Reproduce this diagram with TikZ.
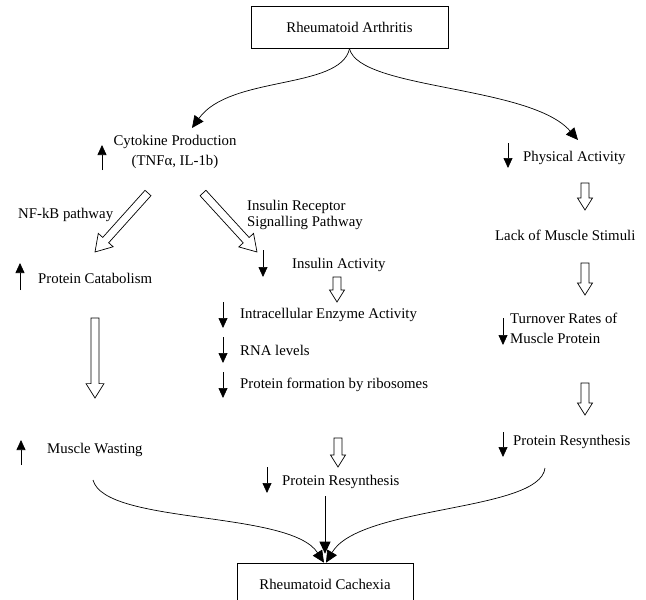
\documentclass[tikz,border=0pt]{standalone}
\usepackage{fontspec}
\setmainfont{Liberation Serif}
\usetikzlibrary{arrows.meta, calc}
\tikzset{box/.style={draw, line width=0.6pt, minimum height=42pt},
label_t/.style={anchor=west, inner sep=0pt, align=left},
ind/.style={-{Triangle[length=10pt, width=9pt]}, line width=0.7pt},
curve/.style={-{Triangle[length=12pt, width=11pt]}, line width=0.7pt},
hollow/.style={draw, line width=0.7pt, fill=white, line join=miter}}
% open block arrow from #2 to #3, head half-width #1
\newcommand{\blockarrow}[3][7.5pt]{%
  \draw[hollow] let \p1=($(#3)-(#2)$), \n1={atan2(\y1,\x1)}, \n2={veclen(\x1,\y1)} in
    [shift={(#2)}, rotate=\n1]
    (0pt,-4pt) -- (\n2-1.6*#1,-4pt) -- (\n2-1.6*#1,-#1) -- (\n2,0pt)
    -- (\n2-1.6*#1,#1) -- (\n2-1.6*#1,4pt) -- (0pt,4pt) -- cycle;}

\begin{document}
\begin{tikzpicture}[x=1pt, y=-1pt, font=\fontsize{14.8}{20}\selectfont]
  \useasboundingbox (0,0) rectangle (646,600);
  % boxes
  \node[box, minimum width=197pt] (ra) at (349.5,27.5) {Rheumatoid Arthritis};
  \node[box, minimum width=176pt] (cachexia) at (325,584) {Rheumatoid Cachexia};
  % left and middle columns
  \node[align=center, inner sep=0pt] (cyto) at (175,152) {Cytokine Production\\(TNFα, IL-1b)};
  \node[label_t] (nfkb) at (18,215) {NF-kB pathway};
  \node[label_t, font=\fontsize{14.8}{16}\selectfont] (irsp) at (247,215) {Insulin Receptor\\Signalling Pathway};
  \node[label_t] (catab) at (38,278) {Protein Catabolism};
  \node[label_t] (insact) at (292,265) {Insulin Activity};
  \node[label_t] (enzyme) at (240,315) {Intracellular Enzyme Activity};
  \node[label_t] (rna) at (240,350) {RNA levels};
  \node[label_t] (ribo) at (240,385) {Protein formation by ribosomes};
  \node[label_t] (wasting) at (47,450) {Muscle Wasting};
  \node[label_t] (resynmid) at (282,482) {Protein Resynthesis};
  % right column
  \node[label_t] (phys) at (523,158) {Physical Activity};
  \node[label_t] (stimuli) at (495,235) {Lack of Muscle Stimuli};
  \node[label_t] (turnover) at (510,328) {Turnover Rates of\\Muscle Protein};
  \node[label_t] (resynright) at (513,442) {Protein Resynthesis};

  % up / down marks
  \draw[ind] (102,170) -- (102,145);
  \draw[ind] (20,290) -- (20,263);
  \draw[ind] (21,465) -- (21,440);
  \draw[ind] (263,250) -- (263,277);
  \draw[ind] (223,302) -- (223,328);
  \draw[ind] (223,337) -- (223,363);
  \draw[ind] (223,372) -- (223,398);
  \draw[ind] (267,467) -- (267,493);
  \draw[ind] (508,143) -- (508,168);
  \draw[ind] (503,318) -- (503,345);
  \draw[ind] (503,432) -- (503,457);

  % open arrows
  \coordinate (cyto-l) at (148,193);  \coordinate (catab-t) at (95,252);
  \coordinate (cyto-r) at (203,193);  \coordinate (insact-t) at (257,252);
  \coordinate (catab-b) at (95,318);  \coordinate (wasting-t) at (95,398);
  \coordinate (insact-b) at (337,277); \coordinate (enzyme-t) at (337,302);
  \coordinate (ribo-b) at (338,438);  \coordinate (resynmid-t) at (338,467);
  \coordinate (phys-b) at (585,183);  \coordinate (stimuli-t) at (585,210);
  \coordinate (stimuli-b) at (585,263); \coordinate (turnover-t) at (585,295);
  \coordinate (turnover-b) at (585,383); \coordinate (resynright-t) at (585,415);
  \blockarrow[10pt]{cyto-l}{catab-t}
  \blockarrow[10pt]{cyto-r}{insact-t}
  \blockarrow[9pt]{catab-b}{wasting-t}
  \blockarrow{insact-b}{enzyme-t}
  \blockarrow{ribo-b}{resynmid-t}
  \blockarrow{phys-b}{stimuli-t}
  \blockarrow{stimuli-b}{turnover-t}
  \blockarrow{turnover-b}{resynright-t}

  % curved connectors
  \coordinate (cyto-tip) at (192,128);
  \coordinate (phys-tip) at (578,140);
  \draw[curve] (ra.south) .. controls (340,90) and (230,75) .. (cyto-tip);
  \draw[curve] (ra.south) .. controls (360,90) and (530,85) .. (phys-tip);
  \coordinate (wasting-b) at (93,480);
  \coordinate (resynmid-b) at (325,496);
  \coordinate (resynright-b) at (545,468);
  \draw[curve] (wasting-b) .. controls (105,525) and (290,510) .. ([xshift=-1pt]cachexia.north);
  \draw[curve] (resynmid-b) -- ([yshift=9pt]cachexia.north);
  \draw[curve] (resynright-b) .. controls (540,512) and (360,505) .. ([xshift=1pt]cachexia.north);
\end{tikzpicture}
\end{document}
